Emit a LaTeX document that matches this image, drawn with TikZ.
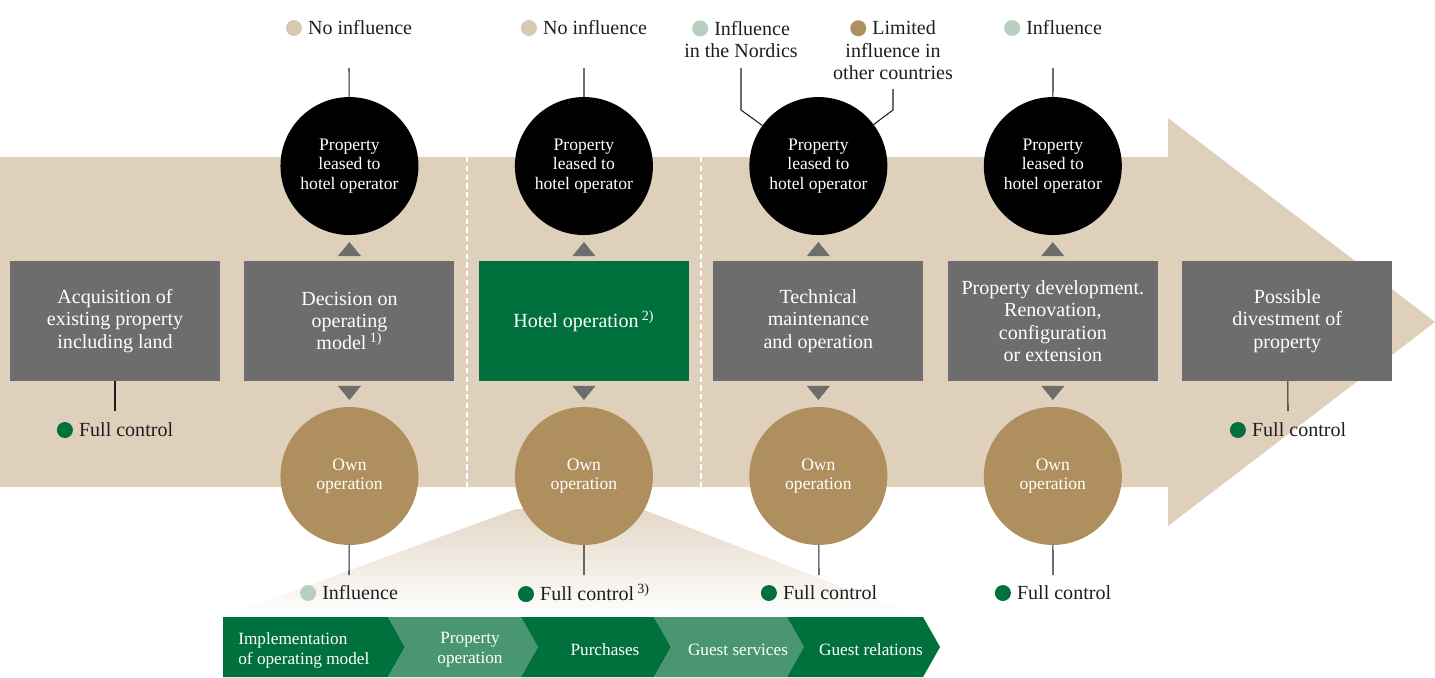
\documentclass[tikz,border=0pt]{standalone}
\usepackage{fontspec}
\setmainfont{Liberation Serif}
\usetikzlibrary{positioning}
\definecolor{HTtan}{RGB}{223,208,188}
\definecolor{HTgray}{RGB}{109,109,109}
\definecolor{HTgreen}{RGB}{0,112,60}
\definecolor{HTlight}{RGB}{74,150,114}
\definecolor{HTbrown}{RGB}{176,143,94}
\definecolor{HTpale}{RGB}{181,208,192}
\definecolor{HTsand}{RGB}{217,200,178}
\definecolor{HTink}{RGB}{30,30,30}
\newcommand{\keydot}[1]{\tikz[baseline=-0.33em]\fill[#1] (0cm,0cm) circle (0.16cm);\hspace{3.5pt}}
\tikzset{
  stagebox/.style={rectangle,fill=HTgray,text=white,align=center,inner sep=0pt,outer sep=0pt,
                   minimum width=4.2cm,minimum height=2.4cm,font=\fontsize{11.4}{12.7}\selectfont},
  leased/.style={circle,fill=black,text=white,align=center,inner sep=0pt,outer sep=0pt,
                 minimum size=2.76cm,font=\fontsize{10}{11.2}\selectfont},
  ownop/.style={leased,fill=HTbrown},
  keytext/.style={text=HTink,align=center,inner sep=0pt,font=\fontsize{11.4}{12.7}\selectfont},
  lead/.style={draw=HTink,line width=0.6pt},
  chev/.style={text=white,align=center,inner sep=0pt,font=\fontsize{9.8}{11.3}\selectfont},
  uptri/.pic={\fill[HTgray] (-0.23cm,0.1cm) -- (0.23cm,0.1cm) -- (0cm,0.38cm) -- cycle;},
  downtri/.pic={\fill[HTgray] (-0.23cm,-0.1cm) -- (0.23cm,-0.1cm) -- (0cm,-0.38cm) -- cycle;}
}

\begin{document}
\begin{tikzpicture}[x=0.02cm,y=-0.02cm,node distance=0.49cm]
  \useasboundingbox (0,0) rectangle (1435,677);
  % the big arrow
  \fill[HTtan] (0,157) -- (1168,157) -- (1168,118) -- (1435,322) -- (1168,526) -- (1168,487) -- (0,487) -- cycle;
  \draw[white,line width=0.6pt,dash pattern=on 3pt off 2pt] (467,157) -- (467,487);
  \draw[white,line width=0.6pt,dash pattern=on 3pt off 2pt] (701,157) -- (701,487);
  % fan under hotel operation
  \shade[top color=HTtan!85,bottom color=white] (516,509) -- (644,510) -- (920,617) -- (223,617) -- cycle;

  \node[stagebox] (box1) at (115,321) {Acquisition of\\existing property\\including land};
  \node[stagebox,right=of box1] (box2) {Decision on\\operating\\model\,\textsuperscript{1)}};
  \node[stagebox,right=of box2,fill=HTgreen] (box3) {Hotel operation\,\textsuperscript{2)}};
  \node[stagebox,right=of box3] (box4) {Technical\\maintenance\\and operation};
  \node[stagebox,right=of box4] (box5) {Property development.\\Renovation,\\configuration\\or extension};
  \node[stagebox,right=of box5] (box6) {Possible\\divestment of\\property};

  \node[leased,above=0.52cm of box2] (lease2) {Property\\leased to\\hotel operator};
  \node[leased,above=0.52cm of box3] (lease3) {Property\\leased to\\hotel operator};
  \node[leased,above=0.52cm of box4] (lease4) {Property\\leased to\\hotel operator};
  \node[leased,above=0.52cm of box5] (lease5) {Property\\leased to\\hotel operator};
  \node[ownop,below=0.52cm of box2] (own2) {Own\\operation};
  \node[ownop,below=0.52cm of box3] (own3) {Own\\operation};
  \node[ownop,below=0.52cm of box4] (own4) {Own\\operation};
  \node[ownop,below=0.52cm of box5] (own5) {Own\\operation};

  \pic at (box2.north) {uptri};
  \pic at (box3.north) {uptri};
  \pic at (box4.north) {uptri};
  \pic at (box5.north) {uptri};
  \pic at (box2.south) {downtri};
  \pic at (box3.south) {downtri};
  \pic at (box4.south) {downtri};
  \pic at (box5.south) {downtri};

  % influence keys
  \node[keytext] (key2) at (349,28) {\keydot{HTsand}No influence};
  \node[keytext] (key3) at (584,28) {\keydot{HTsand}No influence};
  \node[keytext] (key4a) at (741,39) {\keydot{HTpale}Influence\\in the Nordics};
  \node[keytext] (key4b) at (893,50) {\keydot{HTbrown}Limited\\influence in\\other countries};
  \node[keytext] (key5) at (1053,28) {\keydot{HTpale}Influence};
  \node[keytext] (key1) at (115,430) {\keydot{HTgreen}Full control};
  \node[keytext] (key6) at (1288,430) {\keydot{HTgreen}Full control};
  \node[keytext] (low2) at (349,593) {\keydot{HTpale}Influence};
  \node[keytext] (low3) at (584,593) {\keydot{HTgreen}Full control\,\textsuperscript{3)}};
  \node[keytext] (low4) at (819,593) {\keydot{HTgreen}Full control};
  \node[keytext] (low5) at (1053,593) {\keydot{HTgreen}Full control};

  \coordinate (k2) at (349,68);
  \coordinate (k3) at (584,68);
  \coordinate (k4a) at (741,68);
  \coordinate (k4b) at (893,89);
  \coordinate (k5) at (1053,68);
  \coordinate (j1) at (115,411);
  \coordinate (j6) at (1288,411);
  \coordinate (j2) at (349,575);
  \coordinate (j3) at (584,575);
  \coordinate (j4) at (819,575);
  \coordinate (j5) at (1053,575);
  \draw[lead] (k2) -- (lease2);
  \draw[lead] (k3) -- (lease3);
  \draw[lead] (k4a) -- ++(0,42) -- (lease4);
  \draw[lead] (k4b) -- ++(0,21) -- (lease4);
  \draw[lead] (k5) -- (lease5);
  \draw[lead] (box1) -- (j1);
  \draw[lead] (box6) -- (j6);
  \draw[lead] (own2) -- (j2);
  \draw[lead] (own3) -- (j3);
  \draw[lead] (own4) -- (j4);
  \draw[lead] (own5) -- (j5);

  % hotel operation chain
  \fill[HTgreen] (223,617) -- (388,617) -- (405,647) -- (388,677) -- (223,677) -- cycle;
  \fill[HTlight] (388,617) -- (521,617) -- (538,647) -- (521,677) -- (388,677) -- (405,647) -- cycle;
  \fill[HTgreen] (521,617) -- (654,617) -- (671,647) -- (654,677) -- (521,677) -- (538,647) -- cycle;
  \fill[HTlight] (654,617) -- (787,617) -- (804,647) -- (787,677) -- (654,677) -- (671,647) -- cycle;
  \fill[HTgreen] (787,617) -- (923,617) -- (940,647) -- (923,677) -- (787,677) -- (804,647) -- cycle;
  \node[chev,anchor=west,align=left] (ch1) at (238,650) {Implementation\\of operating model};
  \node[chev] (ch2) at (470,650) {Property\\operation};
  \node[chev] (ch3) at (605,650) {Purchases};
  \node[chev] (ch4) at (738,650) {Guest services};
  \node[chev] (ch5) at (871,650) {Guest relations};
\end{tikzpicture}
\end{document}
